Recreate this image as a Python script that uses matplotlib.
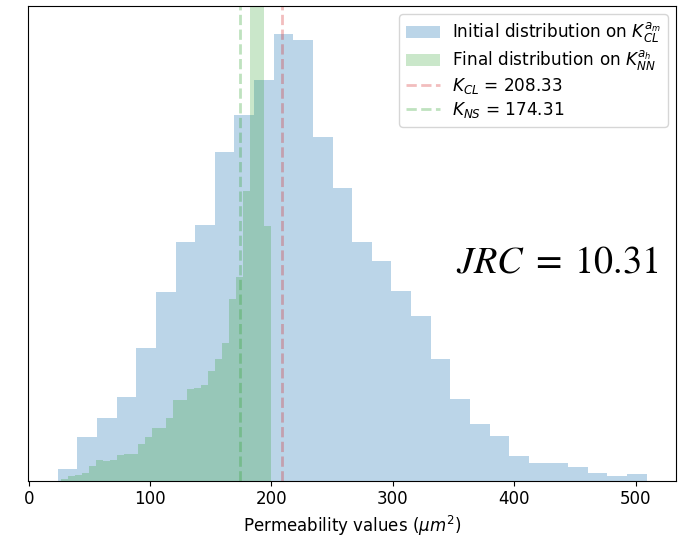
import numpy as np
import matplotlib.pyplot as plt

plt.rcParams['mathtext.fontset'] = 'dejavusans'

# --- data (bin edges + heights) ---
blue_lo, blue_hi = 23.9, 509.1
blue_heights = [12.0, 43.7, 62.7, 83.4, 132.7, 188.7, 238.4, 255.4, 328.7, 365.7,
                400.7, 446.4, 440.7, 343.7, 292.4, 239.0, 219.7, 190.0, 165.0, 121.7,
                81.7, 56.7, 45.0, 24.4, 17.7, 17.7, 14.0, 7.7, 4.4, 6.4]

green_lo, green_hi = 26.7, 200.0
green_heights = [1.7, 5.0, 5.7, 8.0, 15.0, 20.3, 19.7, 20.7, 25.3, 26.3,
                 27.0, 37.0, 43.7, 52.3, 52.3, 62.7, 80.7, 80.7, 91.7, 93.0,
                 95.7, 110.0, 122.0, 137.3, 181.5, 203.3, 289.7, 540.0, 520.0, 254.7]

k_cl = 208.33
k_ns = 174.31
jrc = 10.31
y_top = 475.0

blue_edges = np.linspace(blue_lo, blue_hi, len(blue_heights) + 1)
green_edges = np.linspace(green_lo, green_hi, len(green_heights) + 1)
blue_centers = 0.5 * (blue_edges[:-1] + blue_edges[1:])
green_centers = 0.5 * (green_edges[:-1] + green_edges[1:])

fig = plt.figure(figsize=(6.87, 5.37), dpi=100)
ax = fig.add_axes([0.0412, 0.1048, 0.9428, 0.8846])

ax.hist(blue_centers, bins=blue_edges, weights=blue_heights, histtype='stepfilled',
        color='tab:blue', alpha=0.3, label=r'Initial distribution on $K_{CL}^{a_m}$')
ax.hist(green_centers, bins=green_edges, weights=green_heights, histtype='stepfilled',
        color='tab:green', alpha=0.25, label=r'Final distribution on $K_{NN}^{a_h}$')
ax.axvline(k_cl, color='tab:red', alpha=0.3, ls='--', lw=2,
           label=r'$K_{CL}$ = %.2f' % k_cl)
ax.axvline(k_ns, color='tab:green', alpha=0.3, ls='--', lw=2,
           label=r'$K_{NS}$ = %.2f' % k_ns)

ax.set_ylim(0, y_top)
ax.set_yticks([])
ax.set_xticks([0, 100, 200, 300, 400, 500])
ax.tick_params(axis='x', labelsize=12)
ax.set_xlabel(r'Permeability values ($\mu m^2$)', fontsize=12)
ax.legend(loc='upper right', fontsize=12.2, labelspacing=0.2, handletextpad=0.7)

ax.text(0.66, 0.439, r'$JRC\;=\;%.2f$' % jrc, transform=ax.transAxes,
        fontsize=27.5, math_fontfamily='stix', va='baseline')

fig.savefig('out.png', dpi=100)
